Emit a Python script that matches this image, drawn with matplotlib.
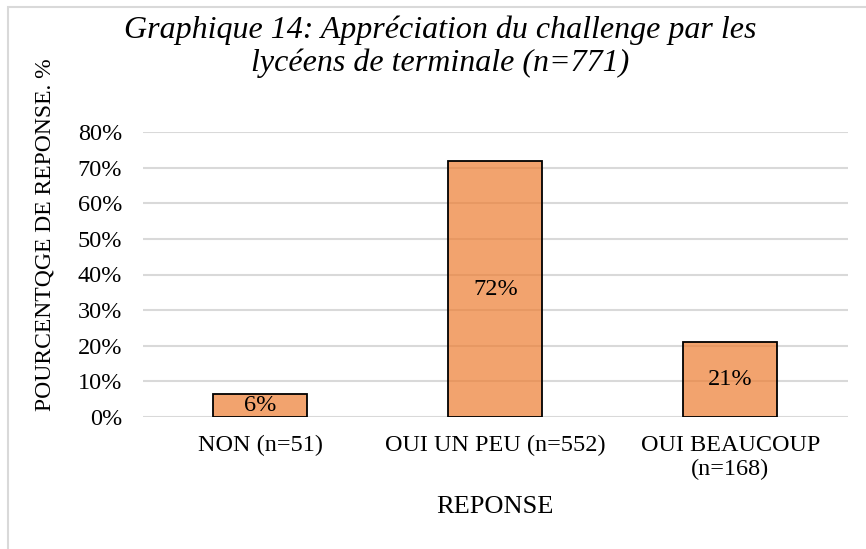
import matplotlib.pyplot as plt
from matplotlib.patches import Rectangle

categories = ["NON (n=51)", "OUI UN PEU (n=552)", "OUI BEAUCOUP\n(n=168)"]
values = [0.064, 0.718, 0.21]
value_labels = ["6%", "72%", "21%"]
yticks = [0, 0.1, 0.2, 0.3, 0.4, 0.5, 0.6, 0.7, 0.8]
ytick_labels = ["0%", "10%", "20%", "30%", "40%", "50%", "60%", "70%", "80%"]

plt.rcParams["font.family"] = ["Liberation Serif", "DejaVu Serif"]

fig = plt.figure(figsize=(8.66, 5.49), dpi=100)
ax = fig.add_axes([0.165, 0.2404, 0.814, 0.5192])

x = range(len(categories))
bars = ax.bar(x, values, width=0.4, facecolor=(237 / 255, 125 / 255, 49 / 255, 0.7),
              edgecolor="black", linewidth=1.3, zorder=3)
for b, lab in zip(bars, value_labels):
    ax.text(b.get_x() + b.get_width() / 2, b.get_height() / 2, lab,
            ha="center", va="center", fontsize=17.5, zorder=4)

ax.set_xlim(-0.5, 2.5)
ax.set_ylim(0, 0.8)
ax.set_yticks(yticks)
ax.set_yticklabels(ytick_labels, fontsize=17.5)
ax.set_xticks(list(x))
ax.set_xticklabels(categories, fontsize=17.5, linespacing=1.2)
ax.tick_params(axis="both", length=0)
ax.tick_params(axis="x", pad=13)
ax.tick_params(axis="y", pad=15)
ax.grid(axis="y", color="#D9D9D9", linewidth=1.5, zorder=0)
ax.set_axisbelow(True)
for s in ax.spines.values():
    s.set_visible(False)

fig.text(0.508, 0.915, "Graphique 14: Appréciation du challenge par les\nlycéens de terminale (n=771)",
         ha="center", va="center", fontsize=23, style="italic", linespacing=1.15)
fig.text(0.052, 0.572, "POURCENTQGE DE REPONSE. %", rotation=90,
         ha="center", va="center", fontsize=17)
fig.text(0.571, 0.0765, "REPONSE", ha="center", va="center", fontsize=19)

fig.patches.append(Rectangle((8 / 866, -0.1), 1.2, 1 - 7 / 549 + 0.1, transform=fig.transFigure,
                             fill=False, edgecolor="#D9D9D9", linewidth=1.5))

fig.savefig("out.png", dpi=100)
